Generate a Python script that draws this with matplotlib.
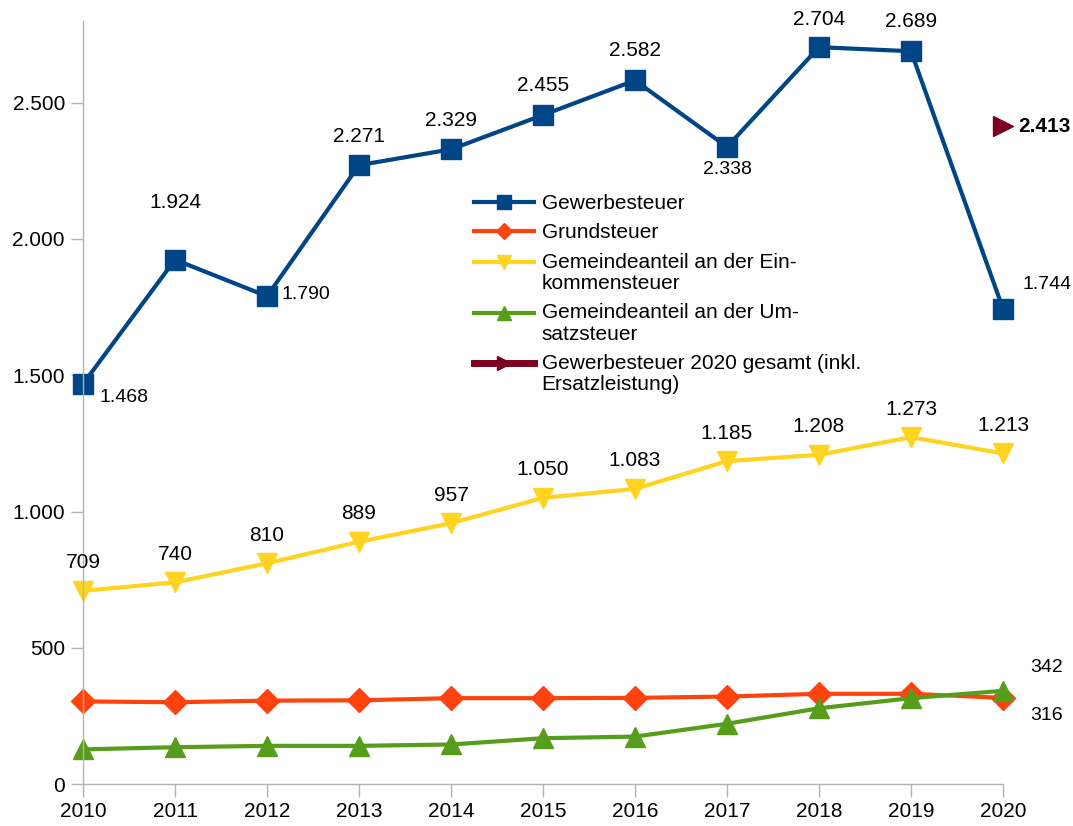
"""Steuereinnahmen 2010-2020 als Liniendiagramm."""

import matplotlib

matplotlib.use("Agg")

import matplotlib.pyplot as plt
from matplotlib.legend_handler import HandlerLine2D
from matplotlib.ticker import FuncFormatter

plt.rcParams["font.family"] = ["Liberation Sans", "DejaVu Sans"]

years = [2010, 2011, 2012, 2013, 2014, 2015, 2016, 2017, 2018, 2019, 2020]
gewerbesteuer = [1468, 1924, 1790, 2271, 2329, 2455, 2582, 2338, 2704, 2689, 1744]
grundsteuer = [303, 300, 306, 307, 315, 315, 316, 321, 331, 331, 316]
einkommensteuer = [709, 740, 810, 889, 957, 1050, 1083, 1185, 1208, 1273, 1213]
umsatzsteuer = [127, 135, 140, 140, 145, 168, 174, 221, 278, 315, 342]
gesamt_year = [2020]
gesamt_value = [2413]

labels = [
    "Gewerbesteuer",
    "Grundsteuer",
    "Gemeindeanteil an der Ein-\nkommensteuer",
    "Gemeindeanteil an der Um-\nsatzsteuer",
    "Gewerbesteuer 2020 gesamt (inkl.\nErsatzleistung)",
]

BLUE = "#004586"
RED = "#ff420e"
YELLOW = "#ffd320"
GREEN = "#579d1c"
DARKRED = "#7e0021"
AXIS = "#b3b3b3"


def de(value):
    return f"{value:,.0f}".replace(",", ".")


class FirstLineHandler(HandlerLine2D):
    """Put the legend handle next to the first line of a two-line label."""

    def create_artists(self, legend, orig_handle, xdescent, ydescent,
                       width, height, fontsize, trans):
        return super().create_artists(legend, orig_handle, xdescent,
                                      ydescent - 16, width, height,
                                      fontsize, trans)


fig = plt.figure(figsize=(10.73, 8.26), dpi=100)
ax = fig.add_axes([83 / 1073, 1 - 784 / 826, 920 / 1073, 763 / 826])

style = dict(linewidth=3, markersize=14, clip_on=False)
ax.plot(years, gewerbesteuer, color=BLUE, marker="s", label=labels[0], **style)
ax.plot(years, grundsteuer, color=RED, marker="D", label=labels[1],
        **{**style, "markersize": 12})
l_ein, = ax.plot(years, einkommensteuer, color=YELLOW, marker="v",
                 label=labels[2], **style)
l_ums, = ax.plot(years, umsatzsteuer, color=GREEN, marker="^",
                 label=labels[3], **style)
l_ges, = ax.plot(gesamt_year, gesamt_value, color=DARKRED, marker=">",
                 linewidth=5, label=labels[4], markersize=14, clip_on=False)

ax.set_xlim(2010, 2020)
ax.set_ylim(0, 2800)
ax.set_xticks(years)
ax.set_yticks([0, 500, 1000, 1500, 2000, 2500])
ax.yaxis.set_major_formatter(FuncFormatter(lambda v, _: de(v)))
ax.tick_params(labelsize=15, color=AXIS, length=9, width=1, pad=4)

for side in ("top", "right"):
    ax.spines[side].set_visible(False)
for side in ("left", "bottom"):
    ax.spines[side].set_color(AXIS)
    ax.spines[side].set_linewidth(1)

# label offsets in pixels: (dx, dy, small font)
gew_offsets = [
    (41, -14, True), (0, 57, False), (39, 2, True), (0, 29, False),
    (0, 29, False), (0, 30, False), (0, 30, False), (0, -23, True),
    (0, 28, False), (0, 30, False), (44, 24, True),
]
for x, y, (dx, dy, small) in zip(years, gewerbesteuer, gew_offsets):
    ax.annotate(de(y), (x, y), xytext=(dx, dy), textcoords="offset pixels",
                ha="center", va="center", fontsize=14 if small else 15)

for x, y in zip(years, einkommensteuer):
    ax.annotate(de(y), (x, y), xytext=(0, 28), textcoords="offset pixels",
                ha="center", va="center", fontsize=15)

ax.annotate(de(umsatzsteuer[-1]), (years[-1], umsatzsteuer[-1]), xytext=(44, 23),
            textcoords="offset pixels", ha="center", va="center", fontsize=14)
ax.annotate(de(grundsteuer[-1]), (years[-1], grundsteuer[-1]), xytext=(44, -18),
            textcoords="offset pixels", ha="center", va="center", fontsize=14)
ax.annotate(de(gesamt_value[0]), (gesamt_year[0], gesamt_value[0]), xytext=(15, 0),
            textcoords="offset pixels", ha="left", va="center", fontsize=15,
            fontweight="bold")

first_line = FirstLineHandler()
leg = ax.legend(
    loc="upper left",
    bbox_to_anchor=(474 / 1073, 1 - 194 / 826),
    bbox_transform=fig.transFigure,
    frameon=False,
    fontsize=15,
    handlelength=2.9,
    handletextpad=0.35,
    labelspacing=0.5,
    borderpad=0,
    borderaxespad=0,
    markerscale=0.7,
    handler_map={l_ein: first_line, l_ums: first_line, l_ges: first_line},
)
for text in leg.get_texts():
    text.set_linespacing(1.15)

fig.savefig("out.png", dpi=100)
